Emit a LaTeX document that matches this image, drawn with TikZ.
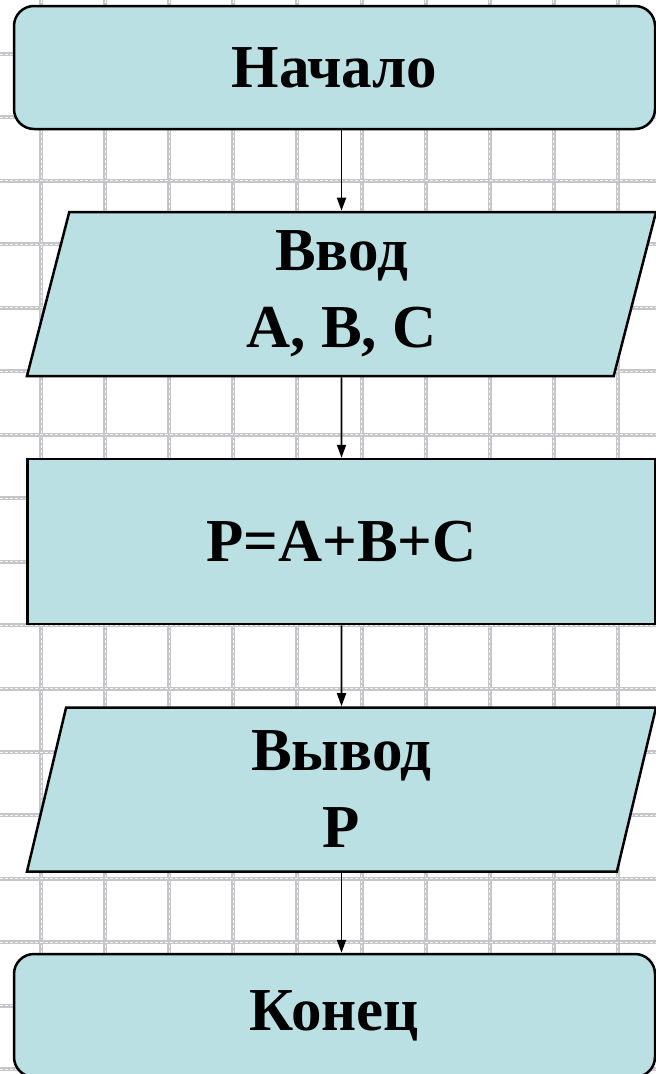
\documentclass[tikz,border=0pt]{standalone}
\usepackage{fontspec}
\setmainfont{Liberation Serif}
\usetikzlibrary{shapes.geometric,arrows.meta,positioning,calc}
\usepackage{xcolor}
\definecolor{blockbg}{HTML}{BBE0E3}
\definecolor{gridgray}{RGB}{198,198,202}

\begin{document}
\begin{tikzpicture}[
    x=1pt, y=-1pt,
    every node/.style={font=\fontsize{61}{77}\selectfont\bfseries},
    blk/.style={draw=black, fill=blockbg, line width=2.5pt, align=center, inner sep=0pt},
    term/.style={blk, rectangle, rounded corners=20pt, minimum width=641pt, minimum height=123pt},
    io/.style={blk, trapezium, trapezium left angle=71.5, trapezium right angle=108.5, trapezium stretches body, minimum width=629pt, minimum height=164pt},
    proc/.style={blk, rectangle, minimum width=628pt, minimum height=165pt},
    arr/.style={-{Triangle[length=13pt,width=9pt]}, line width=1.8pt},
    gline/.style={gridgray, line width=4pt},
    gdash/.style={white!85!gridgray, line width=0.9pt, dash pattern=on 3pt off 2pt},
]

\clip (0,0) rectangle (656,1074);

% ── Grid paper ──
\foreach \gx in {0,...,9} {
  \draw[gline] ({41+64.1*\gx},0) -- ++(0,1074);
  \draw[gdash] ({41+64.1*\gx},0) -- ++(0,1074);
}
\foreach \gy in {0,...,16} {
  \draw[gline] (0,{54+63.45*\gy}) -- ++(656,0);
  \draw[gdash] (0,{54+63.45*\gy}) -- ++(656,0);
}

% ── Blocks ──
\node[term] (start) at (334.5,67.5) {Начало};
\node[io] (input) at (341.5,294) {Ввод\\A, B, C};
\node[proc] (calc) at (341.5,541.5) {P=A+B+C};
\node[io] (output) at (341.5,789.5) {Вывод\\P};
\node[term] (stop) at (334.5,1015.5) {Конец};

% ── Arrows ──
\draw[arr] (start.south -| input.north) -- (input.north);
\draw[arr] (input.south) -- (calc.north);
\draw[arr] (calc.south) -- (output.north);
\draw[arr] (output.south) -- (stop.north -| output.south);

\end{tikzpicture}
\end{document}
